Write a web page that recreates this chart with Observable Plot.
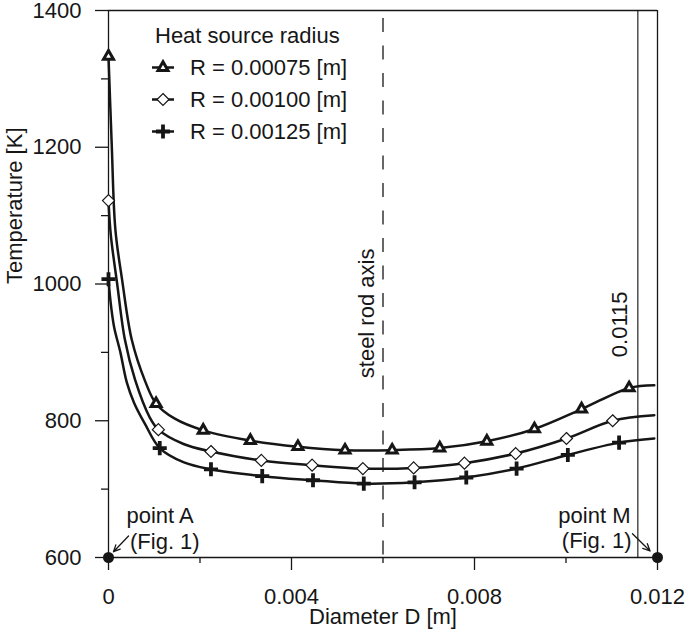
<!DOCTYPE html>
<html><head><meta charset="utf-8">
<script src="https://cdn.jsdelivr.net/npm/d3@7"></script>
<script src="https://cdn.jsdelivr.net/npm/@observablehq/plot@0.6"></script>
<style>
html,body{margin:0;padding:0;background:#fff;}
#chart{width:685px;height:637px;}
</style></head><body><div id="chart"></div>
<script>
// ---- data ----
const seriesNames = ["R = 0.00075 [m]", "R = 0.00100 [m]", "R = 0.00125 [m]"];
const legendTitle = "Heat source radius";

// markers
const markX075 = [0, 0.00104, 0.00207, 0.00310, 0.00414, 0.00517, 0.00620, 0.00724, 0.00827, 0.00931, 0.01034, 0.01138];
const markT075 = [1333, 825, 786, 771, 762, 757, 757, 760, 770, 788, 817, 848];
const markX100 = [0, 0.00109, 0.00224, 0.00334, 0.00445, 0.00556, 0.00667, 0.00778, 0.00890, 0.01001, 0.01102];
const markT100 = [1122, 787, 755, 742, 735, 730, 731, 738, 752, 774, 800];
const markX125 = [0, 0.00112, 0.00224, 0.00336, 0.00447, 0.00558, 0.00669, 0.00782, 0.00892, 0.01004, 0.01116];
const markT125 = [1007, 760, 729, 719, 713, 708, 710, 717, 730, 750, 768];

// curves
const curveX075 = [0, 0.00007, 0.00015, 0.00030, 0.00051, 0.00080, 0.00104, 0.00145, 0.00207, 0.00310, 0.00414, 0.00517, 0.00620, 0.00724, 0.00827, 0.00931, 0.01034, 0.01138, 0.01193];
const curveT075 = [1333, 1205, 1080, 1005, 918, 858, 825, 803, 786, 771, 762, 757, 757, 760, 770, 788, 817, 848, 852];
const curveX100 = [0, 0.00005, 0.00019, 0.00036, 0.00058, 0.00090, 0.00109, 0.00164, 0.00224, 0.00334, 0.00445, 0.00556, 0.00667, 0.00778, 0.00890, 0.01001, 0.01102, 0.01193];
const curveT100 = [1122, 1072, 1000, 918, 860, 805, 787, 766, 755, 742, 735, 730, 731, 738, 752, 774, 800, 808];
const curveX125 = [0, 0.00004, 0.00012, 0.00026, 0.00040, 0.00056, 0.00080, 0.00112, 0.00165, 0.00224, 0.00336, 0.00447, 0.00558, 0.00669, 0.00782, 0.00892, 0.01004, 0.01116, 0.01193];
const curveT125 = [1007, 977, 938, 900, 856, 826, 795, 760, 739, 729, 719, 713, 708, 710, 717, 730, 750, 768, 774];

// axes ticks
const xMajor = [0, 0.004, 0.008, 0.012];
const xMinor = [0.002, 0.006, 0.010];
const yMajor = [600, 800, 1000, 1200, 1400];
const yMinor = [700, 900, 1100, 1300];

// reference lines & annotations
const rodAxisX = 0.006;
const rodAxisLabel = "steel rod axis";
const rodAxisLabelT = 957;
const edgeLineX = 0.01157;
const edgeLineLabel = "0.0115";
const edgeLabelT = 941;
const pointNames = ["point A", "point M"];
const pointX = [0, 0.012];
const pointT = [600, 600];
const arrowX1 = [0.000438, 0.011453];
const arrowT1 = [631.4, 634.8];
const arrowX2 = [0.000109, 0.011838];
const arrowT2 = [608.5, 609.5];

// ---- build ----
const mk = (xs, ts) => xs.map((x, i) => ({x, t: ts[i]}));
const c075 = mk(curveX075, curveT075), c100 = mk(curveX100, curveT100), c125 = mk(curveX125, curveT125);
const m075 = mk(markX075, markT075), m100 = mk(markX100, markT100), m125 = mk(markX125, markT125);
const pts = pointX.map((x, i) => ({x, t: pointT[i], name: pointNames[i]}));
const arrows = arrowX1.map((x1, i) => ({x1, y1: arrowT1[i], x2: arrowX2[i], y2: arrowT2[i]}));

const ink = "#161616";
const FONT = "'Liberation Sans', Arial, Helvetica, sans-serif";
const sym = {tri: {symbol: "triangle", r: 3.7, strokeWidth: 3, fill: "white"},
             dia: {symbol: "diamond2", r: 5.4, strokeWidth: 1.2, fill: "white"},
             plus: {symbol: "plus", r: 4.6, strokeWidth: 3.8, fill: "none"}};

const fmtX = d => d === 0 ? "0" : d3.format(".3f")(d);

const plot = Plot.plot({
  width: 685, height: 637,
  marginLeft: 108, marginRight: 28, marginTop: 10, marginBottom: 80,
  x: {domain: [0, 0.012], axis: null},
  y: {domain: [600, 1400], axis: null},
  style: {fontFamily: FONT, fontSize: "22px", color: ink, background: "#fff", overflow: "visible"},
  marks: [
    Plot.ruleX([rodAxisX], {stroke: ink, strokeWidth: 1.3, strokeDasharray: "14,13.5", strokeDashoffset: -8}),
    Plot.ruleX([edgeLineX], {stroke: "#333", strokeWidth: 1.3}),
    Plot.ruleY([1400], {stroke: ink, strokeWidth: 1.3}),
    Plot.ruleX([0.012], {stroke: ink, strokeWidth: 1.3}),
    Plot.ruleX([0], {stroke: ink, strokeWidth: 1.3}),
    Plot.ruleY([600], {stroke: ink, strokeWidth: 1.3}),
    Plot.axisX({ticks: xMajor, tickSize: 13, tickPadding: 18, tickFormat: fmtX, label: null, fontSize: 22, strokeWidth: 1.3, stroke: ink}),
    Plot.axisX({ticks: xMinor, tickSize: 6, tickFormat: () => "", label: null, strokeWidth: 1.3, stroke: ink}),
    Plot.axisY({ticks: yMajor, tickSize: 13, tickPadding: 14, tickFormat: d3.format("d"), label: null, fontSize: 22, strokeWidth: 1.3, stroke: ink}),
    Plot.axisY({ticks: yMinor, tickSize: 7, tickFormat: () => "", label: null, strokeWidth: 1.3, stroke: ink}),
    Plot.text([rodAxisLabel], {x: rodAxisX, y: rodAxisLabelT, rotate: -90, dx: -16, fontSize: 22, fill: ink}),
    Plot.text([edgeLineLabel], {x: edgeLineX, y: edgeLabelT, rotate: -90, dx: -18, fontSize: 22, fill: ink}),
    Plot.line(c075, {x: "x", y: "t", curve: "catmull-rom", stroke: ink, strokeWidth: 2.5}),
    Plot.line(c100, {x: "x", y: "t", curve: "catmull-rom", stroke: ink, strokeWidth: 2.5}),
    Plot.line(c125, {x: "x", y: "t", curve: "catmull-rom", stroke: ink, strokeWidth: 2.5}),
    Plot.dot(m075, {x: "x", y: "t", stroke: ink, ...sym.tri}),
    Plot.dot(m100, {x: "x", y: "t", stroke: ink, ...sym.dia}),
    Plot.dot(m125, {x: "x", y: "t", stroke: ink, ...sym.plus}),
    Plot.dot(pts, {x: "x", y: "t", r: 5.5, fill: ink}),
    Plot.arrow(arrows, {x1: "x1", y1: "y1", x2: "x2", y2: "y2", stroke: ink, strokeWidth: 1.3, headLength: 9, headAngle: 50}),
    Plot.text(pts.slice(0, 1), {x: "x", y: "t", text: "name", textAnchor: "start", dx: 18, dy: -42, fontSize: 22, fill: ink}),
    Plot.text(pts.slice(0, 1), {x: "x", y: "t", text: () => "(Fig. 1)", textAnchor: "start", dx: 21.5, dy: -15.5, fontSize: 22, fill: ink}),
    Plot.text(pts.slice(1), {x: "x", y: "t", text: "name", textAnchor: "end", dx: -27, dy: -42, fontSize: 22, fill: ink}),
    Plot.text(pts.slice(1), {x: "x", y: "t", text: () => "(Fig. 1)", textAnchor: "end", dx: -26, dy: -17, fontSize: 22, fill: ink}),
    Plot.text(["Diameter D [m]"], {frameAnchor: "bottom", dy: 66, fontSize: 22, fill: ink}),
    Plot.text(["Temperature [K]"], {frameAnchor: "left", rotate: -90, dx: -94, fontSize: 22, fill: ink})
  ]
});

// ---- legend (inside frame, top-left) ----
const g = d3.select(plot).append("g").attr("font-family", FONT).attr("font-size", 22)
  .attr("fill", ink).attr("text-anchor", "start");
g.append("text").attr("x", 155).attr("y", 35).attr("dy", "0.35em").attr("text-anchor", "start").text(legendTitle);
const legSyms = [
  {type: d3.symbolTriangle, ...sym.tri},
  {type: d3.symbolDiamond2, ...sym.dia},
  {type: d3.symbolPlus, ...sym.plus}
];
seriesNames.forEach((name, i) => {
  const cy = 67.5 + i * 32;
  const row = g.append("g").attr("transform", `translate(0,${cy})`);
  row.append("line").attr("x1", 152).attr("x2", 174).attr("stroke", ink).attr("stroke-width", 2.5);
  const s = legSyms[i];
  row.append("path").attr("transform", "translate(163,0)")
    .attr("d", d3.symbol(s.type, Math.PI * s.r * s.r)())
    .attr("fill", s.fill).attr("stroke", ink).attr("stroke-width", s.strokeWidth);
  row.append("text").attr("x", 190).attr("dy", "0.35em").attr("text-anchor", "start").text(name);
});

document.getElementById("chart").appendChild(plot);
</script>
</body></html>
